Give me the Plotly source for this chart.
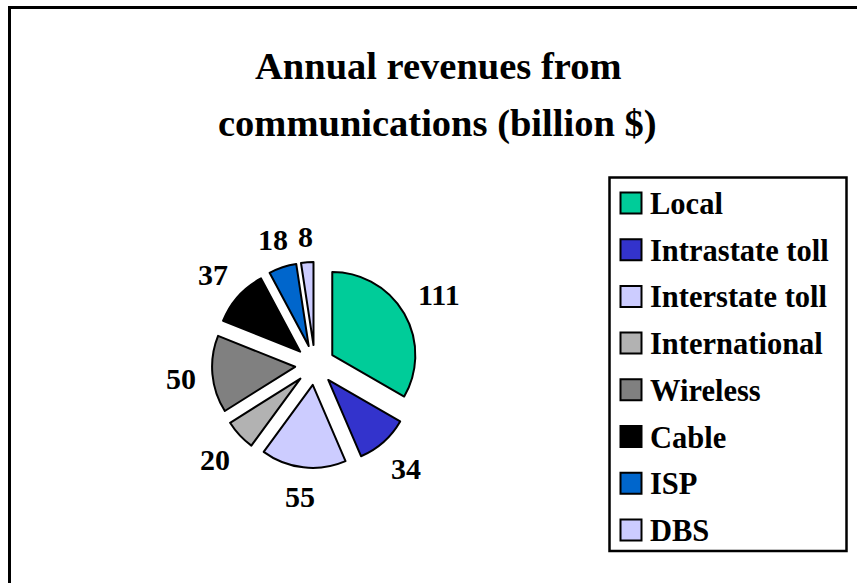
import math
import plotly.graph_objects as go

# Revenue categories and values (billion $)
categories = ["Local", "Intrastate toll", "Interstate toll", "International",
              "Wireless", "Cable", "ISP", "DBS"]
revenues = [111, 34, 55, 20, 50, 37, 18, 8]
colors = ["#00CC99", "#3333CC", "#CCCCFF", "#B2B2B2",
          "#808080", "#000000", "#0066CC", "#CCCCFF"]

title_lines = ["Annual revenues from", "communications (billion $)"]

W, H = 857, 583
SERIF = "Liberation Serif, Times New Roman, serif"


def px(x):
    return x / W


def py(y):
    return 1 - y / H


# Pie placement (pixel box), every slice pulled out
cx, cy, half = 315, 365, 103
pull = 0.24
radius = half / (1 + pull)

fig = go.Figure()
fig.add_trace(go.Pie(
    labels=categories,
    values=revenues,
    sort=False,
    direction="clockwise",
    rotation=0,
    pull=[pull] * len(revenues),
    marker=dict(colors=colors, line=dict(color="black", width=2)),
    textinfo="none",
    domain=dict(x=[px(cx - half), px(cx + half)],
                y=[py(cy + half), py(cy - half)]),
    showlegend=False,
    hoverinfo="label+value",
))

shapes = []
annotations = []

# Value labels set just outside each pulled slice, at the slice mid-angle
label_size = 30
label_gap = 16
total = sum(revenues)
cum = 0
for v in revenues:
    mid = (cum + v / 2) / total * 2 * math.pi
    cum += v
    ux, uy = math.sin(mid), -math.cos(mid)
    hw = len(str(v)) * 0.25 * label_size
    hh = 0.35 * label_size
    d = radius * (1 + pull) + label_gap + hw * abs(ux) + hh * abs(uy)
    annotations.append(dict(text="<b>%d</b>" % v, xref="paper", yref="paper",
                            x=px(cx + d * ux), y=py(cy + d * uy + 1),
                            showarrow=False, xanchor="center", yanchor="middle",
                            font=dict(family=SERIF, size=label_size, color="black")))

# Outer chart frame (runs past the right and bottom edges)
shapes.append(dict(type="rect", xref="paper", yref="paper",
                   x0=px(9.5), x1=px(W + 20), y0=py(H + 20), y1=py(7.5),
                   line=dict(color="black", width=3), fillcolor="rgba(0,0,0,0)"))

# Title, two lines
for i, line in enumerate(title_lines):
    annotations.append(dict(text="<b>%s</b>" % line, xref="paper", yref="paper",
                            x=px(438), y=py(66 + 57 * i), showarrow=False,
                            xanchor="center", yanchor="middle",
                            font=dict(family=SERIF, size=38.5, color="black")))

# Legend box
shapes.append(dict(type="rect", xref="paper", yref="paper",
                   x0=px(609.5), x1=px(846.5), y0=py(551), y1=py(177.5),
                   line=dict(color="black", width=2.5), fillcolor="white"))

# Legend entries
row0, step, sq = 203, 46.7, 21
for i, (name, col) in enumerate(zip(categories, colors)):
    yc = row0 + step * i
    shapes.append(dict(type="rect", xref="paper", yref="paper",
                       x0=px(620.5), x1=px(620.5 + sq),
                       y0=py(yc + sq / 2), y1=py(yc - sq / 2),
                       line=dict(color="black", width=2), fillcolor=col))
    annotations.append(dict(text="<b>%s</b>" % name, xref="paper", yref="paper",
                            x=px(648), y=py(yc + 1), showarrow=False,
                            xanchor="left", yanchor="middle",
                            font=dict(family=SERIF, size=30.5, color="black")))

fig.update_layout(
    width=W, height=H,
    margin=dict(l=0, r=0, t=0, b=0),
    paper_bgcolor="white",
    plot_bgcolor="white",
    shapes=shapes,
    annotations=annotations,
)

fig.write_html("out.html")
